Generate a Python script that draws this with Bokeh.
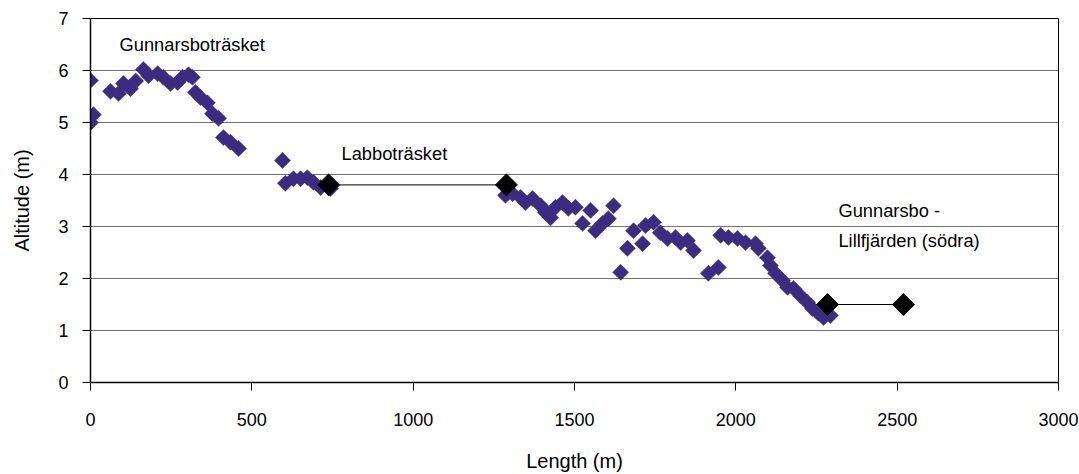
import math
from bokeh.plotting import figure
from bokeh.models import Range1d, SingleIntervalTicker, Label
from bokeh.embed import file_html
from bokeh.resources import INLINE

# Survey points (length in m, altitude in m)
survey_x = [0, 0, 9, 62, 87, 102, 124, 140, 164, 180, 208, 226, 248, 270, 285, 304, 316,
            325, 341, 362, 378, 397, 412, 434, 459,
            595, 604, 629, 651, 672, 691, 713, 744,
            1286, 1308, 1333, 1348, 1370, 1395, 1410, 1426, 1441, 1463, 1481, 1503, 1525,
            1550, 1565, 1587, 1605, 1621, 1643, 1664, 1683, 1711, 1720, 1745, 1766, 1788,
            1813, 1829, 1850, 1869, 1915, 1946, 1953, 1977, 2005, 2030, 2061, 2070, 2098,
            2107, 2123, 2145, 2160, 2179, 2200, 2222, 2238, 2256, 2272, 2293]
survey_y = [5.0, 5.81, 5.15, 5.6, 5.56, 5.75, 5.65, 5.8, 6.02, 5.9, 5.94, 5.87, 5.75, 5.77, 5.87, 5.92, 5.87,
            5.58, 5.48, 5.38, 5.17, 5.08, 4.71, 4.62, 4.5,
            4.27, 3.83, 3.92, 3.92, 3.94, 3.85, 3.75, 3.73,
            3.6, 3.63, 3.56, 3.46, 3.54, 3.4, 3.27, 3.17, 3.37, 3.46, 3.35, 3.37, 3.06,
            3.31, 2.92, 3.06, 3.15, 3.4, 2.12, 2.58, 2.92, 2.67, 3.02, 3.08, 2.88, 2.77,
            2.79, 2.69, 2.73, 2.54, 2.1, 2.21, 2.83, 2.79, 2.77, 2.69, 2.67, 2.58, 2.4,
            2.25, 2.1, 1.96, 1.83, 1.81, 1.67, 1.54, 1.42, 1.33, 1.25, 1.29]

# Lake surfaces (start/end pairs)
lake_x = [738, 1289, 2284, 2520]
lake_y = [3.8, 3.8, 1.5, 1.5]

# Annotations
label_texts = ["Gunnarsboträsket", "Labboträsket", "Gunnarsbo -", "Lillfjärden (södra)"]
label_x = [90, 778, 2318, 2318]
label_y = [6.5, 4.4, 3.31, 2.73]

FONT = "Liberation Sans"
FS = "18px"
FS_LABEL = "18.3px"
FS_AXIS = "20px"

p = figure(frame_width=968, frame_height=364,
           min_border_left=90, min_border_right=21, min_border_top=18, min_border_bottom=92,
           x_range=Range1d(0, 3000), y_range=Range1d(0, 7),
           output_backend="svg", toolbar_location=None, background_fill_color="white",
           border_fill_color="white")

p.outline_line_color = "black"
p.outline_line_width = 1

p.xaxis.ticker = SingleIntervalTicker(interval=500)
p.yaxis.ticker = SingleIntervalTicker(interval=1)
p.xgrid.grid_line_color = None
p.ygrid.grid_line_color = "#707070"
p.ygrid.grid_line_width = 1

for ax in (p.xaxis, p.yaxis):
    ax.axis_line_color = "black"
    ax.axis_line_width = 1.5
    ax.major_tick_line_color = "black"
    ax.major_tick_in = 0
    ax.major_tick_out = 8
    ax.minor_tick_line_color = None
    ax.major_label_text_font = FONT
    ax.major_label_text_font_size = FS
    ax.major_label_text_color = "black"
    ax.axis_label_text_font = FONT
    ax.axis_label_text_font_size = FS_AXIS
    ax.axis_label_text_font_style = "normal"
    ax.axis_label_text_color = "black"

p.xaxis.axis_label = "Length (m)"
p.yaxis.axis_label = "Altitude (m)"
p.xaxis.major_label_standoff = 22
p.yaxis.major_label_standoff = 14
p.xaxis.axis_label_standoff = 21
p.yaxis.axis_label_standoff = 22

p.scatter(survey_x, survey_y, marker="square", size=11.3, angle=math.pi / 4,
          fill_color="#3c2b82", line_color="#3c2b82", line_width=0.5)

p.segment(x0=lake_x[0::2], y0=lake_y[0::2], x1=lake_x[1::2], y1=lake_y[1::2],
          line_color="black", line_width=1)
p.scatter(lake_x, lake_y, marker="square", size=15.5, angle=math.pi / 4,
          fill_color="black", line_color="black")

for t, lx, ly in zip(label_texts, label_x, label_y):
    p.add_layout(Label(x=lx, y=ly, text=t, text_font=FONT, text_font_size=FS_LABEL,
                       text_baseline="middle", text_align="left", text_color="black"))

open("out.html", "w").write(file_html(p, INLINE))
